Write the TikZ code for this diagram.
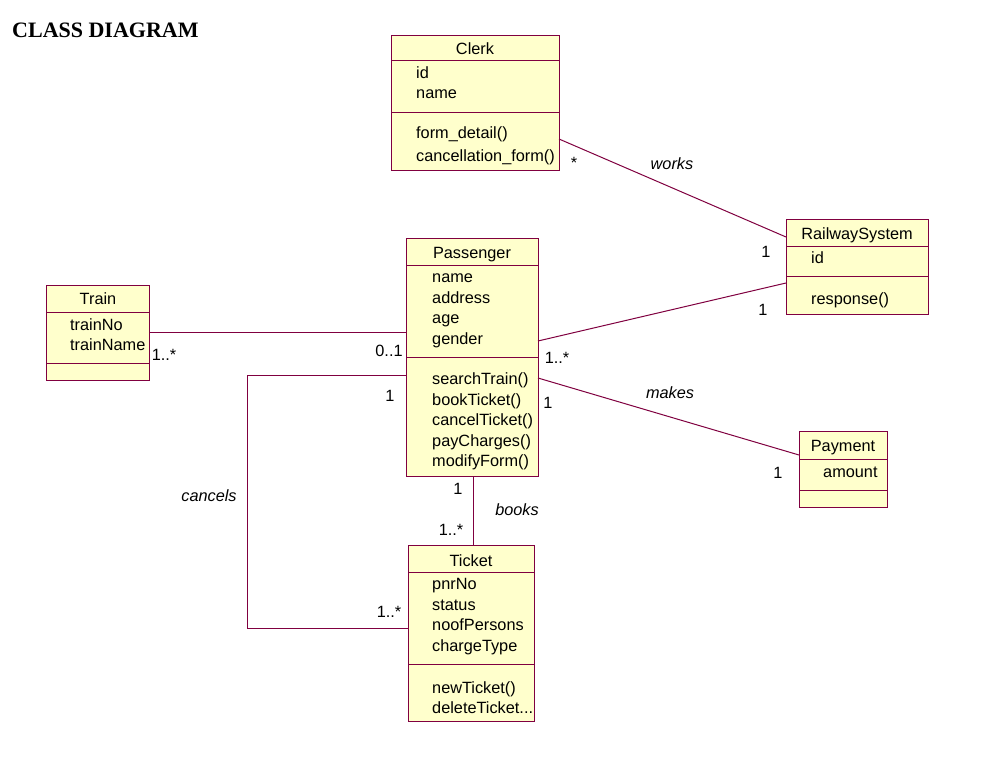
\documentclass[tikz,border=0pt]{standalone}
\usepackage{fontspec}
\setmainfont{Liberation Sans}
\newfontfamily\titlefont{Liberation Serif}
\usetikzlibrary{calc}
\definecolor{umlborder}{RGB}{128,0,64}
\definecolor{umlfill}{RGB}{255,255,204}
\begin{document}
\begin{tikzpicture}[x=1pt,y=-1pt,
  cls/.style={draw=umlborder, fill=umlfill, line width=1pt, inner sep=0pt, outer sep=0pt, anchor=north west, rectangle},
  sep/.style={draw=umlborder, line width=1pt},
  txt/.style={anchor=base west, inner sep=0pt, font=\fontsize{16.3}{19}\selectfont},
  ttl/.style={anchor=base, inner sep=0pt, font=\fontsize{16.3}{19}\selectfont},
  assoc/.style={draw=umlborder, line width=1pt},
  mult/.style={anchor=base, inner sep=0pt, font=\fontsize{16.3}{19}\selectfont},
  role/.style={anchor=base, inner sep=0pt, font=\fontsize{16.3}{19}\selectfont\itshape}]
\fill[white] (0,0) rectangle (984,757);
\useasboundingbox (0,0) rectangle (984,757);

\node[anchor=base west, inner sep=0pt, font=\titlefont\bfseries\fontsize{22}{25}\selectfont] (title) at (12,38) {CLASS DIAGRAM};

% Clerk
\node[cls, minimum width=168pt, minimum height=134pt] (clerk) at (391,36) {};
\draw[sep] (391,61) -- (559,61);
\draw[sep] (391,113) -- (559,113);
\node[ttl] (clerkT) at (475,55) {Clerk};
\node[txt] (clerkA1) at (416,79) {id};
\node[txt] (clerkA2) at (416,99) {name};
\node[txt] (clerkM1) at (416,139) {form\_detail()};
\node[txt] (clerkM2) at (416,161) {cancellation\_form()};

% Passenger
\node[cls, minimum width=132pt, minimum height=238pt] (passenger) at (406,238) {};
\draw[sep] (406,265) -- (538,265);
\draw[sep] (406,357) -- (538,357);
\node[ttl] (passT) at (472,258) {Passenger};
\node[txt] (passA1) at (432,282) {name};
\node[txt] (passA2) at (432,303) {address};
\node[txt] (passA3) at (432,323) {age};
\node[txt] (passA4) at (432,344) {gender};
\node[txt] (passM1) at (432,384) {searchTrain()};
\node[txt] (passM2) at (432,405) {bookTicket()};
\node[txt] (passM3) at (432,425) {cancelTicket()};
\node[txt] (passM4) at (432,446) {payCharges()};
\node[txt] (passM5) at (432,466) {modifyForm()};

% Train
\node[cls, minimum width=103pt, minimum height=95pt] (train) at (46,285) {};
\draw[sep] (46,312) -- (149,312);
\draw[sep] (46,363) -- (149,363);
\node[ttl] (trainT) at (98,304) {Train};
\node[txt] (trainA1) at (70,330) {trainNo};
\node[txt] (trainA2) at (70,350) {trainName};

% RailwaySystem
\node[cls, minimum width=142pt, minimum height=95pt] (railway) at (786,219) {};
\draw[sep] (786,246) -- (928,246);
\draw[sep] (786,276) -- (928,276);
\node[ttl] (railT) at (857,239) {RailwaySystem};
\node[txt] (railA1) at (811,263) {id};
\node[txt] (railM1) at (811,304) {response()};

% Payment
\node[cls, minimum width=88pt, minimum height=76pt] (payment) at (799,431) {};
\draw[sep] (799,459) -- (887,459);
\draw[sep] (799,490) -- (887,490);
\node[ttl] (payT) at (843,451) {Payment};
\node[txt] (payA1) at (823,477) {amount};

% Ticket
\node[cls, minimum width=126pt, minimum height=176pt] (ticket) at (408,545) {};
\draw[sep] (408,572) -- (534,572);
\draw[sep] (408,664) -- (534,664);
\node[ttl] (tickT) at (471,566) {Ticket};
\node[txt] (tickA1) at (432,589) {pnrNo};
\node[txt] (tickA2) at (432,610) {status};
\node[txt] (tickA3) at (432,630) {noofPersons};
\node[txt] (tickA4) at (432,651) {chargeType};
\node[txt] (tickM1) at (432,693) {newTicket()};
\node[txt] (tickM2) at (432,713) {deleteTicket...};

% connector end points on the boxes
\coordinate (cW) at ([yshift=-103pt]clerk.north east);
\coordinate (rW1) at ([yshift=-18pt]railway.north west);
\coordinate (pR) at ([yshift=-103pt]passenger.north east);
\coordinate (rW2) at ([yshift=-64pt]railway.north west);
\coordinate (pM) at ([yshift=-140pt]passenger.north east);
\coordinate (payW) at ([yshift=-24pt]payment.north west);
\coordinate (tE) at ([yshift=-47pt]train.north east);
\coordinate (pT) at ([yshift=-94pt]passenger.north west);
\coordinate (pC) at ([yshift=-137pt]passenger.north west);
\coordinate (tkC) at ([yshift=-83pt]ticket.north west);
\coordinate (pB) at ([xshift=67pt]passenger.south west);
\coordinate (tkB) at ([xshift=65pt]ticket.north west);

% associations
\draw[assoc] (cW) -- (rW1);
\draw[assoc] (pR) -- (rW2);
\draw[assoc] (pM) -- (payW);
\draw[assoc] (tE) -- (pT);
\draw[assoc] (pC) -- ++(-159,0) |- (tkC);
\draw[assoc] (pB) -- (tkB);

% labels
\node[mult] (m1) at (574,168) {*};
\node[role] (works) at (672,169) {works};
\node[mult] (m2) at (766,257) {1};
\node[mult] (m3) at (763,315) {1};
\node[mult] (m4) at (557,363) {1..*};
\node[role] (makes) at (670,398) {makes};
\node[mult] (m5) at (548,408) {1};
\node[mult] (m6) at (778,478) {1};
\node[mult] (m7) at (164,360) {1..*};
\node[mult] (m8) at (389,356) {0..1};
\node[mult] (m9) at (390,401) {1};
\node[mult] (m10) at (389,617) {1..*};
\node[role] (cancels) at (209,501) {cancels};
\node[mult] (m11) at (458,494) {1};
\node[mult] (m12) at (451,535) {1..*};
\node[role] (books) at (517,515) {books};
\end{tikzpicture}
\end{document}
